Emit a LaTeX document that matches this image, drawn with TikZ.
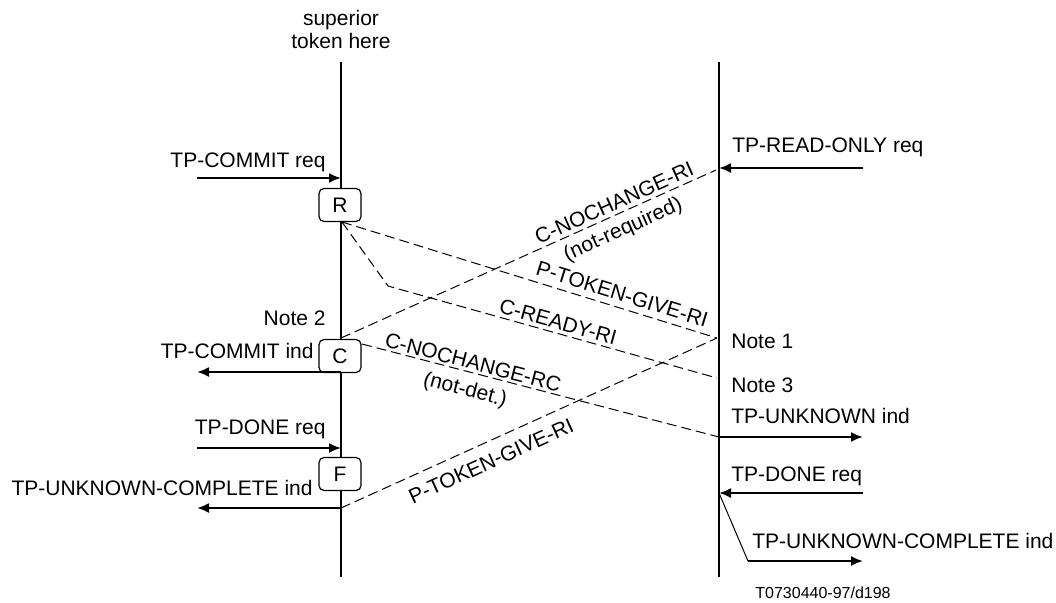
\documentclass[tikz,border=0pt]{standalone}
\usepackage{fontspec}
\setmainfont{Liberation Sans}
\usetikzlibrary{arrows.meta}
\begin{document}
\begin{tikzpicture}[x=0.5pt,y=-0.5pt,
  lifeline/.style={line width=1pt},
  msg/.style={line width=1pt,-{Latex[length=6pt,width=5pt]}},
  dsh/.style={line width=0.5pt,dash pattern=on 5pt off 2.5pt},
  statebox/.style={draw,line width=0.6pt,rounded corners=2.5pt,fill=white,minimum width=21pt,minimum height=16.5pt,inner sep=0pt,font=\fontsize{10.5}{12}\selectfont},
  lbl/.style={inner sep=0pt,font=\fontsize{10.5}{12}\selectfont},
  slbl/.style={font=\fontsize{10.5}{12}\selectfont,sloped}]
\useasboundingbox (0,0) rectangle (1056,602);
% lifelines
\coordinate (Ltop) at (341,62);
\coordinate (Lbot) at (341,577);
\coordinate (Rtop) at (719,62);
\coordinate (Rbot) at (719,577);
\draw[lifeline] (Ltop) -- (Lbot);
\draw[lifeline] (Rtop) -- (Rbot);
\node[lbl,anchor=base] (sup) at (341,25) {superior};
\node[lbl,anchor=base] (tok) at (341,48) {token here};
% state boxes
\node[statebox] (R) at (340,205) {R};
\node[statebox] (C) at (340,356) {C};
\node[statebox] (F) at (340,474) {F};
% left side messages
\coordinate (a1s) at (197,178); \coordinate (a1e) at (341,178);
\draw[msg] (a1s) -- (a1e);
\node[lbl,anchor=base east] (tpcr) at (326,167) {TP-COMMIT req};
\node[lbl,anchor=base east] (n2) at (326,325) {Note 2};
\node[lbl,anchor=base east] (tpci) at (314,358) {TP-COMMIT ind};
\coordinate (a2s) at (341,372); \coordinate (a2e) at (197,372);
\draw[msg] (a2s) -- (a2e);
\node[lbl,anchor=base east] (tpdr) at (326,434) {TP-DONE req};
\coordinate (a3s) at (197,448); \coordinate (a3e) at (341,448);
\draw[msg] (a3s) -- (a3e);
\node[lbl,anchor=base east] (tpuc) at (313,495) {TP-UNKNOWN-COMPLETE ind};
\coordinate (a4s) at (341,508); \coordinate (a4e) at (197,508);
\draw[msg] (a4s) -- (a4e);
% right side messages
\node[lbl,anchor=base west] (tpro) at (732,152) {TP-READ-ONLY req};
\coordinate (b1s) at (863,168); \coordinate (b1e) at (719,168);
\draw[msg] (b1s) -- (b1e);
\node[lbl,anchor=base west] (n1) at (731,348) {Note 1};
\node[lbl,anchor=base west] (n3) at (731,392) {Note 3};
\node[lbl,anchor=base west] (tpui) at (731,423) {TP-UNKNOWN ind};
\coordinate (b2s) at (719,437); \coordinate (b2e) at (863,437);
\draw[msg] (b2s) -- (b2e);
\node[lbl,anchor=base west] (tpdr2) at (731,481) {TP-DONE req};
\coordinate (b3s) at (863,493); \coordinate (b3e) at (719,493);
\draw[msg] (b3s) -- (b3e);
\coordinate (b4k) at (748,561); \coordinate (b4e) at (863,561);
\draw[line width=0.5pt] (b3e) -- (b4k);
\draw[msg] (b4k) -- (b4e);
\node[lbl,anchor=base west] (tpuc2) at (752,548) {TP-UNKNOWN-COMPLETE ind};
\node[inner sep=0pt,anchor=base west,font=\fontsize{8}{9}\selectfont] (ref) at (755,598) {T0730440-97/d198};
% dashed exchanges
\coordinate (d1s) at (341,338); \coordinate (d1e) at (716,170);
\draw[dsh] (d1s) -- (d1e)
  node[slbl,inner sep=1.9pt,pos=0.741,above] {C-NOCHANGE-RI}
  node[slbl,inner sep=3.3pt,pos=0.734,below] {(not-required)};
\coordinate (Rout) at (342,222);
\coordinate (note1pt) at (717,338);
\draw[dsh] (Rout) -- (note1pt)
  node[slbl,inner sep=3pt,pos=0.736,above] {P-TOKEN-GIVE-RI};
\coordinate (kink) at (388,286);
\coordinate (note3pt) at (717,378);
\draw[dsh] (Rout) -- (kink) -- (note3pt)
  node[slbl,inner sep=1.6pt,pos=0.508,above] {C-READY-RI};
\coordinate (Cout) at (362,344);
\draw[dsh] (Cout) -- (b2s)
  node[slbl,inner sep=1.2pt,pos=0.304,above] {C-NOCHANGE-RC}
  node[slbl,inner sep=4.4pt,pos=0.302,below] {(not-det.)};
\draw[dsh] (a4s) -- (note1pt)
  node[slbl,inner sep=5.5pt,pos=0.378,below] {P-TOKEN-GIVE-RI};
\end{tikzpicture}
\end{document}
